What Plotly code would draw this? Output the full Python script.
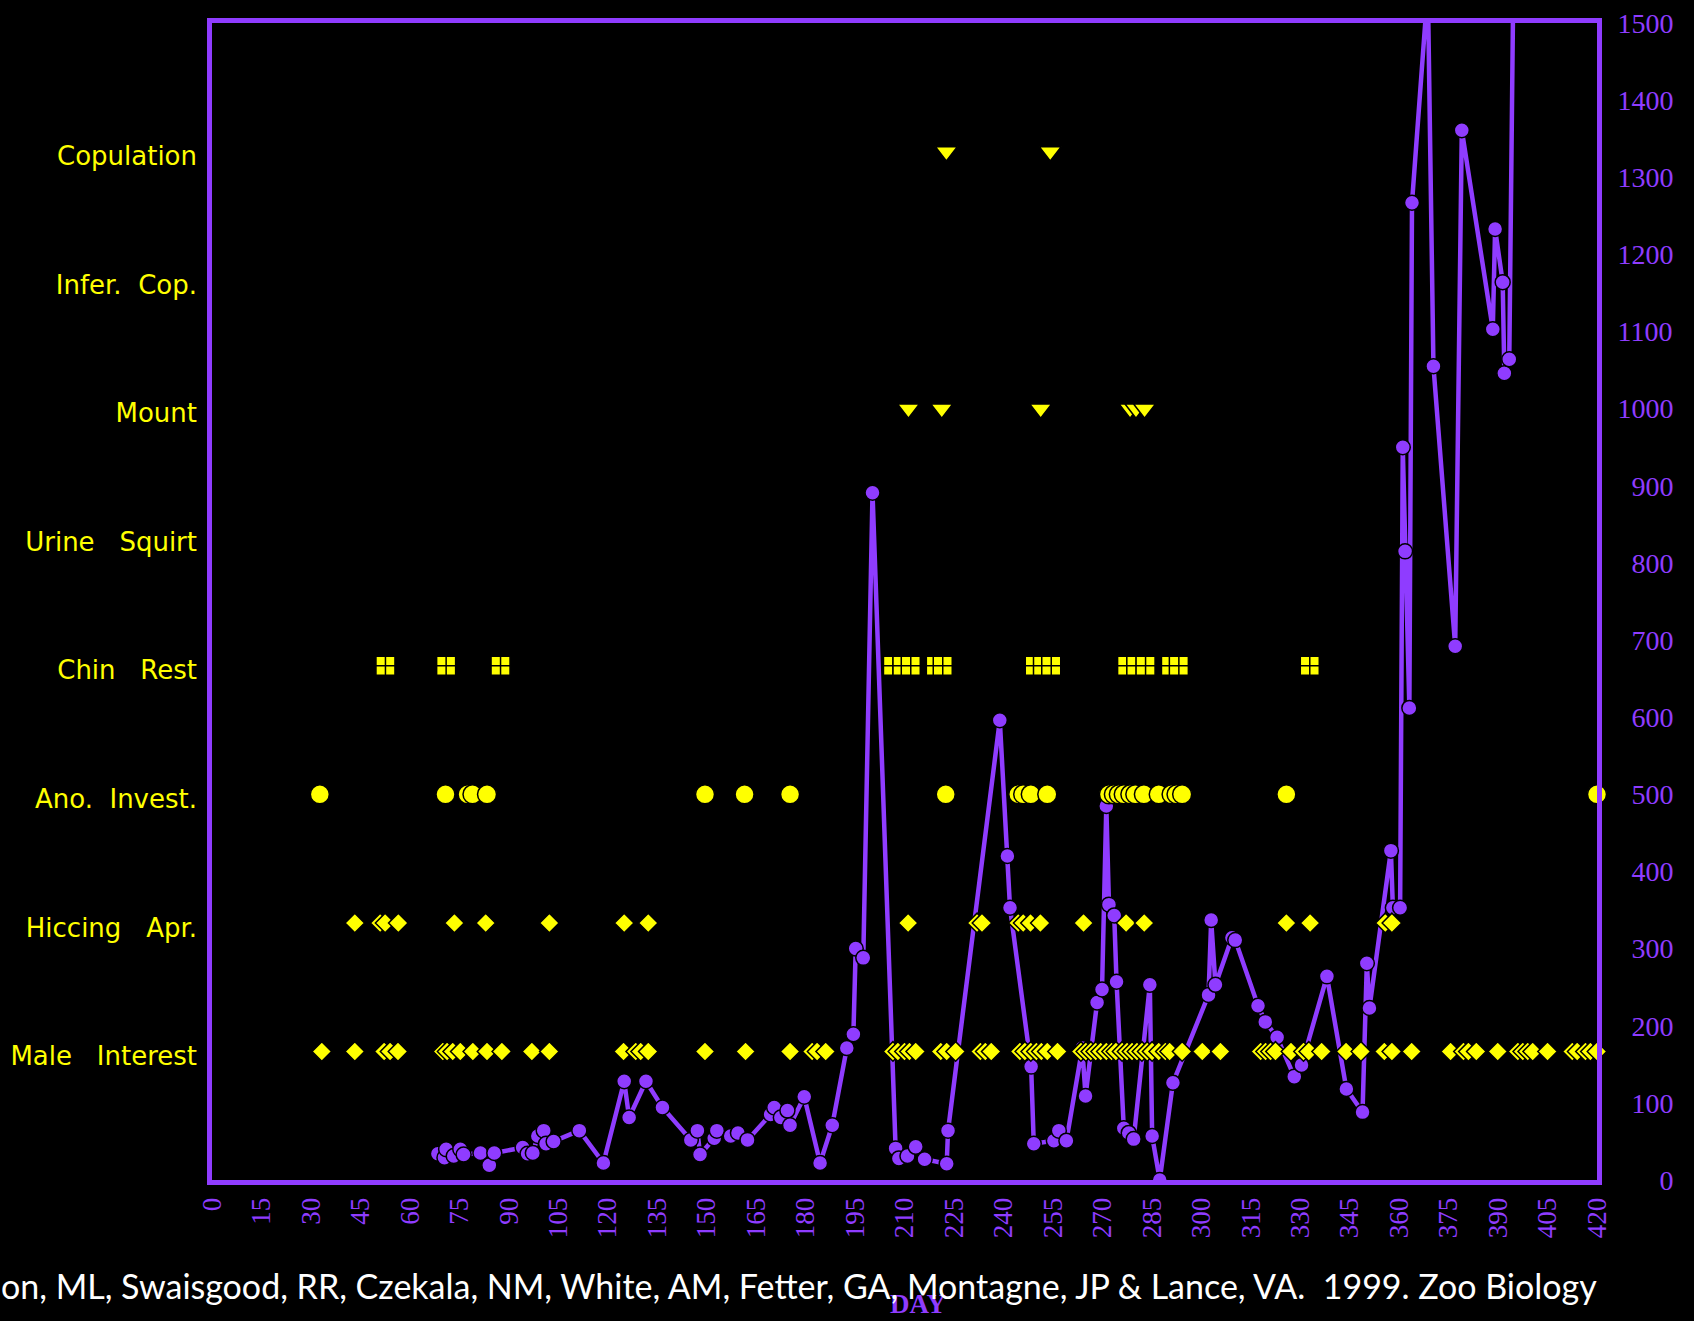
import plotly.graph_objects as go

# ---------------- data ----------------
hormone_days = [68.5, 70.5, 71.0, 73.3, 75.3, 76.3, 81.4, 84.1, 85.6, 94.2, 95.7, 97.3, 98.8, 100.6,
                101.3, 103.6, 111.4, 118.7, 125.0, 126.5, 131.6, 136.6, 145.2, 147.2, 148.0, 152.3,
                153.1, 157.3, 159.5, 162.4, 169.4, 170.5, 172.5, 174.5, 175.3, 179.6, 184.4, 188.1,
                192.5, 194.5, 195.2, 197.5, 200.3, 207.3, 208.3, 210.9, 213.4, 216.1, 222.8, 223.2,
                238.9, 241.2, 242.0, 248.4, 249.2, 255.3, 256.8, 259.1, 263.9, 264.9, 268.4, 269.9,
                271.2, 272.0, 273.6, 274.3, 276.5, 278.0, 279.5, 284.4, 285.1, 287.4, 291.4, 302.2,
                303.0, 304.3, 309.3, 310.3, 317.2, 319.4, 323.0, 328.2, 330.4, 338.1, 344.0, 348.9,
                350.2, 351.0, 357.5, 358.1, 360.3, 361.1, 361.8, 363.1, 363.9, 368.7, 370.4, 377.0,
                379.0, 388.4, 389.1, 391.4, 391.9, 393.4, 395.5]
hormone_vals = [34, 29, 40, 31, 40, 33, 35, 19, 35, 42, 34, 35, 57, 64,
                47, 50, 64, 22, 128, 81, 128, 94, 52, 64, 33, 54,
                64, 57, 61, 52, 85, 94, 81, 90, 71, 108, 22, 71,
                171, 189, 300, 288, 891, 41, 28, 31, 43, 27, 21, 64,
                596, 420, 353, 147, 47, 51, 64, 51, 171, 109, 230, 247,
                485, 357, 343, 257, 67, 61, 53, 253, 57, 0, 126, 240,
                337, 253, 314, 311, 226, 205, 185, 134, 149, 264, 118, 88,
                281, 223, 427, 353, 353, 950, 815, 612, 1267, 1546, 1055, 692,
                1361, 1103, 1233, 1164, 1046, 1064, 1900]

categories = ["Male\u00a0\u00a0\u00a0Interest", "Hiccing\u00a0\u00a0\u00a0Apr.", "Ano.\u00a0\u00a0Invest.",
              "Chin\u00a0\u00a0\u00a0Rest", "Urine\u00a0\u00a0\u00a0Squirt", "Mount",
              "Infer.\u00a0\u00a0Cop.", "Copulation"]
category_levels = [166.7, 333.3, 500.0, 666.7, 833.3, 1000.0, 1166.7, 1333.3]

male_interest_days = [33.3, 43.3, 52.2, 54.0, 56.4, 70.0, 71.3, 73.0, 75.3, 79.1, 83.4, 87.9, 97.0,
                      102.3, 124.8, 128.5, 130.0, 132.3, 149.5, 161.8, 175.3, 182.0, 183.5, 186.1,
                      206.5, 208.0, 210.0, 211.5, 213.4, 221.0, 222.8, 225.5, 233.0, 234.5, 236.3,
                      245.0, 246.5, 248.3, 250.0, 251.5, 253.3, 256.4, 263.5, 265.0, 266.5, 268.0,
                      269.5, 271.2, 272.8, 274.1, 276.0, 277.5, 279.0, 280.5, 282.0, 283.6, 285.1,
                      287.1, 289.1, 290.4, 294.2, 300.3, 305.8, 318.0, 319.5, 321.0, 322.5, 327.2,
                      331.0, 332.6, 336.5, 343.9, 348.4, 355.5, 357.8, 363.8, 375.6, 379.5, 381.0,
                      383.4, 389.9, 396.0, 397.5, 399.0, 400.5, 405.0, 412.5, 414.0, 416.5, 418.0, 420.0]
hiccing_days = [43.3, 51.0, 52.5, 56.5, 73.5, 83.0, 102.3, 125.0, 132.3, 211.1, 232.0, 233.5,
                244.5, 246.0, 248.2, 251.2, 264.3, 277.2, 282.7, 325.8, 333.0, 355.8, 357.8]
ano_days = [32.7, 70.8, 77.5, 79.0, 83.4, 149.5, 161.5, 175.3, 222.5, 244.5, 246.0, 248.3, 253.3,
            272.0, 273.5, 275.0, 276.5, 278.5, 280.0, 282.6, 287.1, 291.0, 292.5, 294.2, 325.8, 420.0]
chin_days = [52.6, 71.0, 87.5, 206.5, 209.4, 211.9, 219.5, 221.6, 249.5, 252.0, 254.5, 277.5,
             280.3, 283.1, 290.8, 293.2, 332.9]
mount_days = [211.2, 221.3, 251.3, 278.4, 280.2, 282.8]
copulation_days = [222.7, 254.2]

x_ticks = list(range(0, 421, 15))
y_ticks = list(range(0, 1501, 100))

# ---------------- styles ----------------
PURPLE = "#8F3CFF"
YELLOW = "#FFFF00"

fig = go.Figure()

# hormone line (main y axis, right side numbers)
fig.add_trace(go.Scatter(
    x=hormone_days, y=hormone_vals, mode="lines+markers", yaxis="y",
    line=dict(color=PURPLE, width=4.5),
    marker=dict(size=15, color=PURPLE, line=dict(color="black", width=1.5)),
    showlegend=False))

def behaviour(days, level, symbol, size):
    fig.add_trace(go.Scatter(
        x=days, y=[level] * len(days), mode="markers", yaxis="y2", cliponaxis=False,
        marker=dict(symbol=symbol, size=size, color=YELLOW, line=dict(color="black", width=1.5)),
        showlegend=False))

behaviour(male_interest_days, category_levels[0], "diamond", 15)
behaviour(hiccing_days, category_levels[1], "diamond", 15)
behaviour(ano_days, category_levels[2], "circle", 19)
behaviour(chin_days, category_levels[3], "square-cross", 19)
behaviour(mount_days, category_levels[5], "triangle-down", 19)
behaviour(copulation_days, category_levels[7], "triangle-down", 19)

right_text = [("\u2007" * (4 - len(str(v)))) + str(v) for v in y_ticks]

fig.update_layout(
    width=1694, height=1321,
    paper_bgcolor="black", plot_bgcolor="black",
    margin=dict(l=212, r=97, t=23, b=141, pad=0),
    xaxis=dict(range=[0, 420], tickvals=x_ticks, ticktext=[str(v) for v in x_ticks],
               tickangle=-90, ticks="", showgrid=False, zeroline=False,
               showline=True, linecolor=PURPLE, linewidth=5, mirror=True,
               tickfont=dict(family="Liberation Serif", size=27, color=PURPLE),
               ticklabelstandoff=2, automargin=False),
    yaxis=dict(range=[0, 1500], side="right", tickvals=y_ticks, ticktext=right_text,
               ticks="", showgrid=False, zeroline=False,
               showline=True, linecolor=PURPLE, linewidth=5, mirror=True,
               tickfont=dict(family="Liberation Serif", size=28, color=PURPLE),
               ticklabelstandoff=10, automargin=False),
    yaxis2=dict(range=[0, 1500], overlaying="y", side="left",
                tickvals=[v - 6 for v in category_levels], ticktext=categories,
                ticks="", showgrid=False, zeroline=False, showline=False,
                tickfont=dict(family="DejaVu Sans", size=26, color=YELLOW),
                ticklabelstandoff=14, automargin=False),
    annotations=[
        dict(text="<b>DAY</b>", xref="paper", yref="paper", x=0.510, y=-0.107,
             xanchor="center", yanchor="middle", showarrow=False,
             font=dict(family="Liberation Serif", size=27, color=PURPLE)),
        dict(text="on, ML, Swaisgood, RR, Czekala, NM, White, AM, Fetter, GA, Montagne, JP &amp; Lance, VA.  1999. Zoo Biology",
             xref="paper", yref="paper", x=-0.1535, y=-0.0915,
             xanchor="left", yanchor="middle", showarrow=False,
             font=dict(family="Lato", size=34, color="white")),
    ],
)

fig.write_html(
    "out.html",
    config={"displayModeBar": False},
    post_script="document.body.style.margin='0';document.body.style.background='black';"
                "document.documentElement.style.background='black';document.body.style.overflow='hidden';",
)
